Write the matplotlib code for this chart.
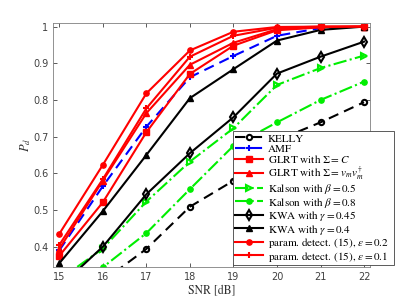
import matplotlib
matplotlib.use("Agg")
import matplotlib.pyplot as plt
import numpy as np

snr = [15, 16, 17, 18, 19, 20, 21, 22]

kelly = [0.22, 0.306, 0.394, 0.509, 0.58, 0.69, 0.739, 0.794]
amf = [0.39, 0.565, 0.727, 0.862, 0.92, 0.975, 0.996, 1.0]
glrt_c = [0.375, 0.521, 0.712, 0.871, 0.948, 0.99, 0.998, 1.0]
glrt_v = [0.394, 0.58, 0.764, 0.896, 0.956, 0.993, 0.999, 1.0]
kalson_05 = [0.31, 0.395, 0.523, 0.632, 0.723, 0.841, 0.887, 0.921]
kalson_08 = [0.25, 0.344, 0.437, 0.557, 0.675, 0.739, 0.80, 0.85]
kwa_045 = [0.29, 0.40, 0.543, 0.655, 0.753, 0.872, 0.918, 0.959]
kwa_04 = [0.355, 0.497, 0.65, 0.805, 0.884, 0.962, 0.991, 1.0]
param_02 = [0.435, 0.623, 0.818, 0.935, 0.986, 0.999, 1.0, 1.0]
param_01 = [0.405, 0.584, 0.777, 0.918, 0.975, 0.997, 1.0, 1.0]

labels = [
    "KELLY",
    "AMF",
    r"GLRT with $\Sigma = C$",
    r"GLRT with $\Sigma = v_m v_m^\dagger$",
    r"Kalson with $\beta = 0.5$",
    r"Kalson with $\beta = 0.8$",
    r"KWA with $\gamma = 0.45$",
    r"KWA with $\gamma = 0.4$",
    r"param. detect. (15), $\epsilon = 0.2$",
    r"param. detect. (15), $\epsilon = 0.1$",
]

plt.rcParams['mathtext.fontset'] = 'stix'

fig = plt.figure(figsize=(4.09, 3.01), dpi=100)
ax = fig.add_axes([0.130, 0.112, 0.775, 0.813])

lw = 1.5
ms = 3.8
ax.plot(snr, kelly, color='k', ls=(0, (5, 3)), lw=lw, marker='o', ms=ms, mfc='none', mew=1.5, label=labels[0])
ax.plot(snr, amf, color='#0000ff', ls=(0, (5, 3)), lw=lw, marker='+', ms=5, mew=1.5, label=labels[1])
ax.plot(snr, glrt_c, color='#ff0000', ls='-', lw=lw, marker='s', ms=ms, label=labels[2])
ax.plot(snr, glrt_v, color='#ff0000', ls='-', lw=lw, marker='^', ms=4.8, label=labels[3])
ax.plot(snr, kalson_05, color='#00ee00', ls='-.', lw=lw, marker='>', ms=4.8, mfc='none', mew=1.5, label=labels[4])
ax.plot(snr, kalson_08, color='#00ee00', ls='-.', lw=lw, marker='o', ms=ms, label=labels[5])
ax.plot(snr, kwa_045, color='k', ls='-', lw=lw, marker='d', ms=4.8, mfc='none', mew=1.5, label=labels[6])
ax.plot(snr, kwa_04, color='k', ls='-', lw=lw, marker='^', ms=4.8, label=labels[7])
ax.plot(snr, param_02, color='#ff0000', ls='-', lw=lw, marker='o', ms=ms, label=labels[8])
ax.plot(snr, param_01, color='#ff0000', ls='-', lw=lw, marker='+', ms=5, mew=1.5, label=labels[9])

ax.set_xlim(14.86, 22.14)
ax.set_ylim(0.344, 1.011)
ax.set_xticks(snr)
ax.set_yticks([0.4, 0.5, 0.6, 0.7, 0.8, 0.9, 1.0])
ax.set_yticklabels(["0.4", "0.5", "0.6", "0.7", "0.8", "0.9", "1"])
ax.tick_params(direction='in', top=True, right=True, labelsize=7, colors='#404040', length=3, width=0.6)
for s in ax.spines.values():
    s.set_color('#808080')
    s.set_linewidth(0.6)

ax.set_xlabel("SNR [dB]", family='STIXGeneral', fontsize=8.5, color='#303030', labelpad=2)
ax.set_ylabel(r"$P_d$", fontsize=9, color='#303030', labelpad=0)

leg = ax.legend(loc='lower left', bbox_to_anchor=(0.567, 0.008, 0.509, 0.526), mode='expand',
                prop={'family': 'STIXGeneral', 'size': 8}, fancybox=False, framealpha=1,
                edgecolor='#404040', handlelength=2.6, handletextpad=0.4, borderpad=0.15,
                handleheight=1.0, labelspacing=-0.05, borderaxespad=0)
leg.get_frame().set_linewidth(0.6)

fig.savefig("out.png", dpi=100)
